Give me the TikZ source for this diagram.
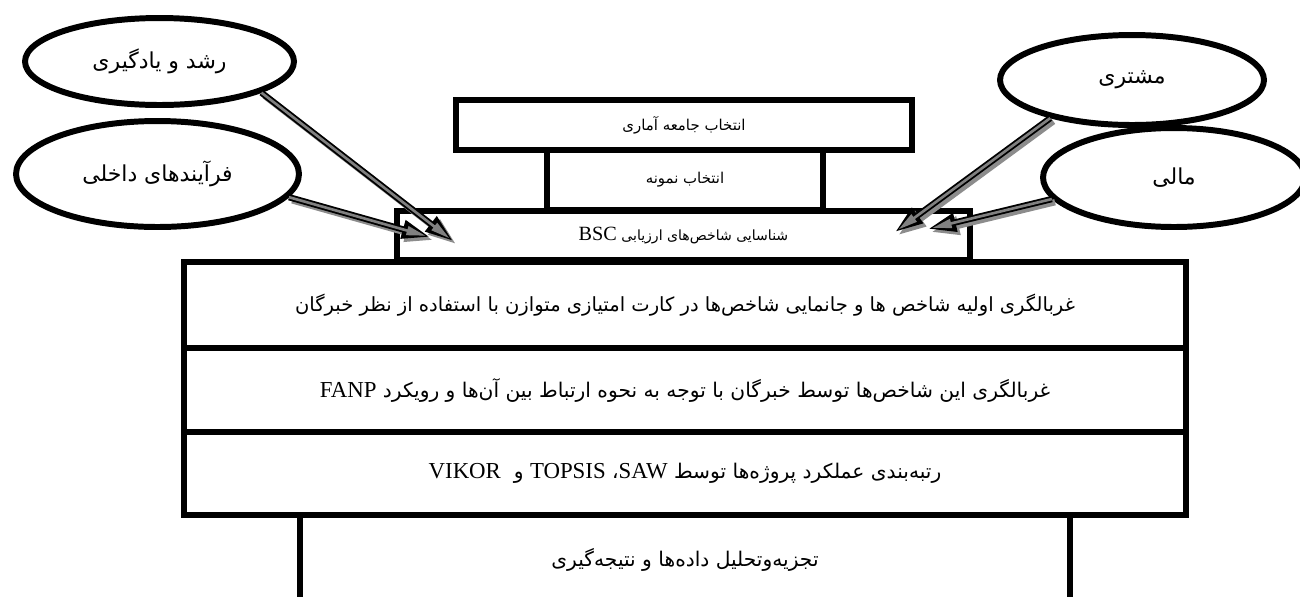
\documentclass[tikz,border=0pt]{standalone}
\usepackage{fontspec}
\setmainfont{Liberation Serif}
\newfontfamily\farsi[Script=Arabic]{DejaVu Sans}
\TeXXeTstate=1
\usetikzlibrary{shapes.geometric,arrows.meta}
\newcommand\lword[2][13]{\beginL{\rmfamily\fontsize{#1}{#1}\selectfont #2}\endL}
\tikzset{
BOX/.style={draw=black, line width=3.4pt, fill=white, rectangle, inner sep=0pt, font=\farsi\fontsize{8.5}{10}\selectfont},
BIGBOX/.style={BOX, minimum width=20.03cm, font=\farsi\fontsize{11.5}{13}\selectfont},
OVAL/.style={draw=black, line width=3.4pt, fill=white, ellipse, inner sep=0pt, font=\farsi\fontsize{12.5}{14}\selectfont},
SHADE/.style={draw=black!45, line width=3.6pt, -{Triangle[length=16pt,width=10pt]}, transform canvas={xshift=1.8pt,yshift=-1.8pt}},
OUTER/.style={draw=black, line width=3.6pt, -{Triangle[length=16pt,width=10pt]}},
INNER/.style={draw=black!50, line width=1.5pt, shorten >=2.5pt, -{Triangle[length=11pt,width=5pt]}},
}
\begin{document}
\begin{tikzpicture}[x=0.02cm,y=-0.02cm]
	\useasboundingbox (0,0) rectangle (1300,596);
	% steps
	\node[BOX, minimum width=15.4cm, minimum height=1.8cm, font=\farsi\fontsize{11.5}{13}\selectfont] (analysis) at (685,560) {\beginR تجزیه‌وتحلیل داده‌ها و نتیجه‌گیری\endR};
	\node[BIGBOX, minimum height=1.66cm] (rank) at (685,473.5) {\beginR رتبه‌بندی عملکرد پروژه‌ها توسط \lword{SAW}، \lword{TOPSIS}{} و\ \ \lword{VIKOR}\endR};
	\node[BIGBOX, minimum height=1.68cm] (fanp) at (685,390) {\beginR غربالگری این شاخص‌ها توسط خبرگان با توجه به نحوه ارتباط بین آن‌ها و رویکرد \lword{FANP}\endR};
	\node[BIGBOX, minimum height=1.72cm, font=\farsi\fontsize{11.1}{13}\selectfont] (screen) at (685,305) {\beginR غربالگری اولیه شاخص ها و جانمایی شاخص‌ها در کارت امتیازی متوازن با استفاده از نظر خبرگان\endR};
	\node[BOX, minimum width=11.46cm, minimum height=0.98cm, font=\farsi\fontsize{8}{10}\selectfont] (bsc) at (683.5,235.5) {\beginR شناسایی شاخص‌های ارزیابی \lword[11.5]{BSC}\endR};
	\node[BOX, minimum width=5.52cm, minimum height=1.2cm] (sample) at (685,180) {\beginR انتخاب نمونه\endR};
	\node[BOX, minimum width=9.12cm, minimum height=1cm] (pop) at (684,125) {\beginR انتخاب جامعه آماری\endR};
	% perspectives
	\node[OVAL, minimum width=5.38cm, minimum height=1.74cm] (growth) at (159.5,61.5) {\beginR رشد و یادگیری\endR};
	\node[OVAL, minimum width=5.66cm, minimum height=2.12cm] (internal) at (157.5,174) {\beginR فرآیندهای داخلی\endR};
	\node[OVAL, minimum width=5.28cm, minimum height=1.8cm] (customer) at (1132,80) {\beginR مشتری\endR};
	\node[OVAL, minimum width=5.24cm, minimum height=1.98cm] (finance) at (1174,177.5) {\beginR مالی\endR};
	\coordinate (tipA) at (453,241);
	\coordinate (tipB) at (430,237);
	\coordinate (tipC) at (895,232);
	\coordinate (tipD) at (928,229);
	\foreach \a/\b in {growth.-17/tipA, internal.-10/tipB, customer.-155/tipC, finance.-170/tipD}{
		\draw[SHADE] (\a) -- (\b);
		\draw[OUTER] (\a) -- (\b);
		\draw[INNER] (\a) -- (\b);
	}
\end{tikzpicture}
\end{document}
